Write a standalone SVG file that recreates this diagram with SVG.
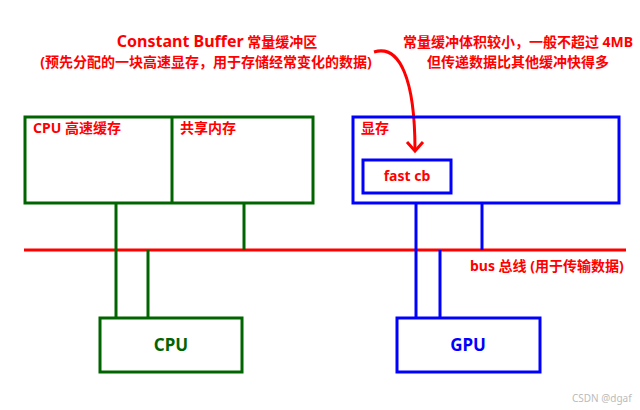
<svg xmlns="http://www.w3.org/2000/svg" width="640" height="410" viewBox="0 0 640 410">
<style>
  text { font-family: "Noto Sans", "Noto Sans CJK SC", sans-serif; font-weight: bold; font-size: 14px; }
  .red { fill: #ff0000; }
  .big { font-size: 17px; }
  .g { stroke: #006400; stroke-width: 3; fill: none; }
  .b { stroke: #0000ff; stroke-width: 3; fill: none; }
  .r { stroke: #ff0000; stroke-width: 3; fill: none; }
</style>
<rect width="640" height="410" fill="#ffffff"/>
<g id="note-left">
  <text class="red" x="217" y="47" text-anchor="middle"><tspan font-size="16">Constant Buffer</tspan> 常量缓冲区</text>
  <text class="red" x="206" y="67" text-anchor="middle">(预先分配的一块高速显存，用于存储经常变化的数据)</text>
</g>
<g id="note-right">
  <text class="red" x="518" y="47" text-anchor="middle">常量缓冲体积较小，一般不超过 4MB</text>
  <text class="red" x="518" y="67" text-anchor="middle">但传递数据比其他缓冲快得多</text>
</g>
<g id="connectors">
  <line class="r" x1="24" y1="250" x2="626" y2="250"/>
  <line class="g" x1="116" y1="203" x2="116" y2="318"/>
  <line class="g" x1="148" y1="250" x2="148" y2="318"/>
  <line class="g" x1="244" y1="203" x2="244" y2="250"/>
  <line class="b" x1="416" y1="203" x2="416" y2="318"/>
  <line class="b" x1="440" y1="250" x2="440" y2="318"/>
  <line class="b" x1="482" y1="203" x2="482" y2="250"/>
  <path class="r" d="M374,52 C400,44 415,80 415,150"/>
  <polyline class="r" points="407,142 415,151 423,142"/>
</g>
<g id="bus-label">
  <text class="red" x="470" y="271">bus 总线 (用于传输数据)</text>
</g>
<g id="cpu-memory">
  <rect class="g" x="25" y="117" width="288" height="86"/>
  <line class="g" x1="172" y1="117" x2="172" y2="203"/>
  <text class="red" x="33" y="133">CPU 高速缓存</text>
  <text class="red" x="180" y="133">共享内存</text>
</g>
<g id="vram">
  <rect class="b" x="353" y="117" width="266" height="86"/>
  <text class="red" x="361" y="133">显存</text>
</g>
<g id="fast-cb">
  <rect class="b" x="363" y="160" width="88" height="33"/>
  <text class="red" x="407" y="181" text-anchor="middle">fast cb</text>
</g>
<g id="cpu">
  <rect class="g" x="100" y="318" width="142" height="54"/>
  <text class="big" x="171" y="351" text-anchor="middle" fill="#006400">CPU</text>
</g>
<g id="gpu">
  <rect class="b" x="397" y="318" width="143" height="54"/>
  <text class="big" x="468" y="351" text-anchor="middle" fill="#0000ff">GPU</text>
</g>
<text x="572" y="402" fill="#bbbbbb" style="font-weight:normal;font-size:10px">CSDN @dgaf</text>
</svg>
